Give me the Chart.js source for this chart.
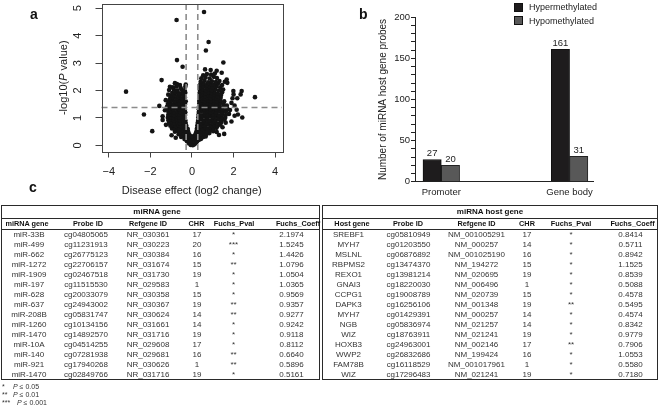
<!DOCTYPE html>
<html><head><meta charset="utf-8">
<script src="https://cdn.jsdelivr.net/npm/chart.js@4.4.1/dist/chart.umd.min.js"></script>
<style>
html,body{margin:0;padding:0;background:#fff}
body{width:658px;height:417px;position:relative;overflow:hidden;font-family:"Liberation Sans",Arial,Helvetica,sans-serif;color:#222}
.abs{position:absolute}
.panel{font-weight:bold;font-size:14px;color:#111;line-height:14px}
.cell{position:absolute;white-space:nowrap;transform:translateX(-50%);font-size:8px;line-height:10px;color:#333}
.hcell{position:absolute;white-space:nowrap;transform:translateX(-50%);font-size:7.3px;line-height:12px;font-weight:bold;color:#111}
.leg{position:absolute;font-size:9px;line-height:12px;color:#222;white-space:nowrap}
.sw{position:absolute;width:9px;height:9px;border:1px solid #111;box-sizing:border-box}
.fn{position:absolute;font-size:7px;line-height:8px;color:#333;white-space:nowrap}
</style>
</head><body>
<canvas id="volcano" class="abs" style="left:0;top:0" width="300" height="200"></canvas>
<canvas id="bars" class="abs" style="left:330px;top:0" width="328" height="205"></canvas>
<div class="panel abs" style="left:30px;top:7px">a</div>
<div class="panel abs" style="left:359px;top:7px">b</div>
<div class="panel abs" style="left:29px;top:180px">c</div>
<div id="legend"></div>
<div id="tables"></div>
<div id="notes"></div>
<script>
// ---------------- DATA ----------------
// Panel a: volcano plot points [log2 change, -log10(P)]
const volcanoPoints = [
[-0.06,0.02],[0.04,0.01],[0.12,0.04],[-0.14,0.07],[0.2,0.09],[-0.02,0.1],
[-0.24,0.15],[-0.12,0.17],[0.0,0.16],[0.12,0.18],[0.25,0.15],[0.33,0.2],
[-0.36,0.23],[-0.22,0.26],[-0.08,0.24],[0.06,0.27],[0.19,0.25],[0.3,0.28],[0.44,0.24],
[-0.52,0.31],[-0.4,0.34],[-0.27,0.32],[-0.14,0.35],[0.0,0.33],[0.14,0.36],[0.26,0.32],[0.4,0.35],[0.54,0.31],[-0.78,0.28],[-0.98,0.37],[0.66,0.33],
[-0.64,0.41],[-0.52,0.44],[-0.39,0.42],[-0.26,0.45],[-0.13,0.41],[0.18,0.43],[0.31,0.46],[0.44,0.41],[0.57,0.44],[0.7,0.42],[0.84,0.45],[1.3,0.38],[1.55,0.42],
[-0.82,0.5],[-0.69,0.53],[-0.56,0.51],[-0.43,0.55],[-0.3,0.52],[-0.18,0.5],[0.22,0.52],[0.35,0.55],[0.48,0.5],[0.61,0.54],[0.74,0.51],[0.88,0.55],[1.02,0.52],[1.19,0.49],
[-0.96,0.62],[-0.84,0.6],[-0.71,0.64],[-0.58,0.61],[-0.45,0.65],[-0.32,0.62],[-0.2,0.6],[0.24,0.62],[0.37,0.65],[0.5,0.6],[0.63,0.64],[0.76,0.61],[0.9,0.65],[1.04,0.6],[1.18,0.64],[1.47,0.66],
[-1.04,0.72],[-0.91,0.75],[-0.78,0.71],[-0.65,0.74],[-0.52,0.7],[-0.39,0.76],[-0.27,0.72],[0.26,0.73],[0.39,0.7],[0.53,0.75],[0.66,0.72],[0.8,0.76],[0.94,0.71],[1.08,0.74],[1.22,0.7],[1.36,0.76],[-1.25,0.75],
[-1.1,0.82],[-0.96,0.85],[-0.83,0.8],[-0.7,0.84],[-0.57,0.81],[-0.43,0.86],[-0.3,0.82],[0.28,0.83],[0.42,0.8],[0.56,0.85],[0.7,0.81],[0.84,0.86],[0.98,0.82],[1.12,0.85],[1.26,0.8],[1.4,0.84],[1.9,0.87],[1.62,0.83],
[-1.13,0.92],[-0.99,0.95],[-0.86,0.9],[-0.72,0.94],[-0.58,0.91],[-0.45,0.96],[-0.32,0.92],[0.3,0.91],[0.44,0.95],[0.58,0.9],[0.72,0.94],[0.86,0.91],[1.0,0.96],[1.14,0.92],[1.28,0.95],[1.42,0.9],[1.56,0.94],[-1.41,0.93],
[-1.16,1.01],[-1.02,1.04],[-0.88,1.0],[-0.74,1.05],[-0.6,1.02],[-0.47,1.06],[-0.34,1.01],[0.31,1.03],[0.45,1.0],[0.59,1.05],[0.73,1.01],[0.87,1.06],[1.01,1.02],[1.15,1.05],[1.29,1.0],[1.43,1.04],[1.6,1.01],[2.42,1.02],[-1.41,1.06],
[-1.14,1.11],[-1.0,1.14],[-0.86,1.1],[-0.72,1.15],[-0.58,1.12],[-0.45,1.16],[-0.33,1.11],[0.32,1.13],[0.46,1.1],[0.6,1.15],[0.74,1.11],[0.88,1.16],[1.02,1.12],[1.16,1.15],[1.3,1.1],[1.45,1.14],[1.62,1.11],[1.78,1.15],[2.21,1.13],[2.05,1.08],
[-1.12,1.21],[-0.98,1.24],[-0.85,1.2],[-0.71,1.25],[-0.57,1.22],[-0.44,1.26],[-0.32,1.21],[0.33,1.22],[0.47,1.26],[0.61,1.2],[0.75,1.24],[0.89,1.21],[1.03,1.25],[1.17,1.2],[1.31,1.24],[1.46,1.21],[1.63,1.25],[1.83,1.29],[-1.3,1.28],
[-1.18,1.31],[-1.04,1.34],[-0.9,1.3],[-0.76,1.35],[-0.62,1.32],[-0.48,1.36],[-0.34,1.31],[0.33,1.32],[0.48,1.36],[0.62,1.3],[0.76,1.34],[0.9,1.31],[1.04,1.35],[1.18,1.3],[1.32,1.34],[1.48,1.31],[1.7,1.34],[2.15,1.3],
[-1.2,1.41],[-1.05,1.44],[-0.92,1.4],[-0.78,1.45],[-0.64,1.42],[-0.5,1.46],[-0.36,1.41],[0.34,1.42],[0.48,1.46],[0.62,1.4],[0.76,1.44],[0.9,1.41],[1.04,1.45],[1.18,1.4],[1.32,1.44],[1.5,1.41],[1.68,1.45],[2.05,1.45],[-1.57,1.44],
[-1.16,1.51],[-1.02,1.54],[-0.88,1.5],[-0.74,1.55],[-0.6,1.52],[-0.46,1.56],[-0.33,1.51],[0.35,1.52],[0.49,1.56],[0.63,1.5],[0.77,1.54],[0.91,1.51],[1.05,1.55],[1.19,1.5],[1.35,1.54],[1.52,1.51],[1.9,1.55],
[-1.1,1.61],[-0.96,1.64],[-0.82,1.6],[-0.68,1.65],[-0.55,1.62],[-0.42,1.66],[-0.3,1.61],[0.35,1.62],[0.49,1.66],[0.63,1.6],[0.77,1.64],[0.91,1.61],[1.05,1.65],[1.2,1.6],[1.36,1.64],[1.55,1.61],[-1.26,1.65],
[-1.05,1.71],[-0.9,1.74],[-0.76,1.7],[-0.62,1.75],[-0.48,1.72],[-0.34,1.76],[0.36,1.72],[0.5,1.76],[0.64,1.7],[0.78,1.74],[0.92,1.71],[1.06,1.75],[1.2,1.7],[1.38,1.74],[1.95,1.72],[2.18,1.72],[3.03,1.76],
[-1.0,1.81],[-0.85,1.84],[-0.7,1.8],[-0.56,1.85],[-0.4,1.82],[0.36,1.82],[0.5,1.86],[0.64,1.8],[0.78,1.84],[0.92,1.81],[1.06,1.85],[1.22,1.8],[1.4,1.84],[2.0,1.86],[2.34,1.86],
[-0.95,1.91],[-0.8,1.94],[-0.62,1.9],[-0.45,1.95],[-0.32,1.92],[0.37,1.92],[0.52,1.96],[0.66,1.9],[0.8,1.94],[0.94,1.91],[1.08,1.95],[1.24,1.9],[1.45,1.94],[-1.14,1.85],
[-1.1,2.02],[-0.88,2.05],[-0.7,2.0],[-0.5,2.04],[-0.35,2.01],[0.38,2.02],[0.52,2.06],[0.68,2.0],[0.82,2.04],[0.96,2.01],[1.12,2.05],[1.3,2.0],[1.5,2.04],[1.99,1.98],[2.39,1.98],[-3.17,1.96],
[-0.92,2.12],[-0.75,2.15],[-0.55,2.1],[-0.32,2.14],[0.38,2.12],[0.54,2.16],[0.7,2.1],[0.86,2.14],[1.0,2.11],[1.18,2.15],[1.36,2.12],[-1.06,2.14],
[-0.82,2.27],[-0.58,2.2],[-0.3,2.22],[0.4,2.22],[0.56,2.26],[0.72,2.2],[0.9,2.24],[1.06,2.21],[1.25,2.25],[1.45,2.2],[-0.72,2.24],
[-1.46,2.38],[0.42,2.32],[0.6,2.36],[0.78,2.3],[0.96,2.34],[1.15,2.31],[1.32,2.35],[1.58,2.32],[1.67,2.4],
[0.45,2.45],[0.65,2.48],[0.85,2.44],[1.05,2.5],[1.2,2.46],[1.7,2.28],
[0.54,2.56],[0.72,2.6],[0.92,2.58],[1.1,2.62],[1.43,2.65],[0.63,2.77],[0.9,2.75],[1.19,2.72],
[0.58,4.86],[-0.74,4.57],[0.8,3.77],[0.67,3.46],[-0.72,3.11],[1.51,3.02],[-0.45,2.87],[-2.31,1.13],[-1.91,0.52]
];
const thresholdLog2 = 0.28;
const thresholdNegLogP = 1.38;
const volcanoXTicks = [-4,-2,0,2,4];
const volcanoYTicks = [0,1,2,3,4,5];

// Panel b
const regionCategories = ['Promoter','Gene body'];
const seriesNames = ['Hypermethylated','Hypomethylated'];
const seriesColors = ['#1e1c1d','#585858'];
const hyperCounts = [27,161];
const hypoCounts = [20,31];

// Panel c tables
const columnHeaders = ['Probe ID','Refgene ID','CHR','Fuchs_Pval','Fuchs_Coeff'];
const mirnaGenes = ['miR-33B','miR-499','miR-662','miR-1272','miR-1909','miR-197','miR-628','miR-637','miR-208B','miR-1260','miR-1470','miR-10A','miR-140','miR-921','miR-1470'];
const mirnaProbes = ['cg04805065','cg11231913','cg26775123','cg22706157','cg02467518','cg11515530','cg20033079','cg24943002','cg05831747','cg10134156','cg14892570','cg04514255','cg07281938','cg17940268','cg02849766'];
const mirnaRefgenes = ['NR_030361','NR_030223','NR_030384','NR_031674','NR_031730','NR_029583','NR_030358','NR_030367','NR_030624','NR_031661','NR_031716','NR_029608','NR_029681','NR_030626','NR_031716'];
const mirnaChr = ['17','20','16','15','19','1','15','19','14','14','19','17','16','1','19'];
const mirnaPval = ['*','***','*','**','*','*','*','**','**','*','*','*','**','**','*'];
const mirnaCoeff = ['2.1974','1.5245','1.4426','1.0796','1.0504','1.0365','0.9569','0.9357','0.9277','0.9242','0.9118','0.8112','0.6640','0.5896','0.5161'];
const hostGenes = ['SREBF1','MYH7','MSLNL','RBPMS2','REXO1','GNAI3','CCPG1','DAPK3','MYH7','NGB','WIZ','HOXB3','WWP2','FAM78B','WIZ'];
const hostProbes = ['cg05810949','cg01203550','cg06876892','cg13474370','cg13981214','cg18220030','cg19008789','cg16256106','cg01429391','cg05836974','cg18763911','cg24963001','cg26832686','cg16118529','cg17296483'];
const hostRefgenes = ['NM_001005291','NM_000257','NM_001025190','NM_194272','NM_020695','NM_006496','NM_020739','NM_001348','NM_000257','NM_021257','NM_021241','NM_002146','NM_199424','NM_001017961','NM_021241'];
const hostChr = ['17','14','16','15','19','1','15','19','14','14','19','17','16','1','19'];
const hostPval = ['*','*','*','*','*','*','*','**','*','*','*','**','*','*','*'];
const hostCoeff = ['0.8414','0.5711','0.8942','1.1525','0.8539','0.5088','0.4578','0.5495','0.4574','0.8342','0.9779','0.7906','1.0553','0.5580','0.7180'];
const footnoteSymbols = ['*','**','***'];
const footnoteLevels = ['0.05','0.01','0.001'];

// ---------------- PANEL A ----------------
const FONT = '"Liberation Sans", Arial, sans-serif';
const minusFmt = v => (v < 0 ? '\u2212' + Math.abs(v) : String(v));

const volcanoDecor = {
  id: 'volcanoDecor',
  afterDatasetsDraw(chart) {
    const {ctx, chartArea: a, scales: {x, y}} = chart;
    ctx.save();
    ctx.strokeStyle = '#8c8c8c';
    ctx.lineWidth = 1.6;
    ctx.setLineDash([6, 4]);
    [-thresholdLog2, thresholdLog2].forEach(v => {
      const px = x.getPixelForValue(v);
      ctx.beginPath(); ctx.moveTo(px, a.top); ctx.lineTo(px, a.bottom); ctx.stroke();
    });
    const py = y.getPixelForValue(thresholdNegLogP);
    ctx.beginPath(); ctx.moveTo(a.left, py); ctx.lineTo(a.right, py); ctx.stroke();
    ctx.setLineDash([]);
    ctx.strokeStyle = '#444';
    ctx.lineWidth = 1;
    ctx.strokeRect(Math.round(a.left) + 0.5, Math.round(a.top) + 0.5, Math.round(a.right - a.left), Math.round(a.bottom - a.top));
    // rotated y tick labels (R style)
    ctx.fillStyle = '#222';
    ctx.font = '11px ' + FONT;
    ctx.textAlign = 'center';
    ctx.textBaseline = 'middle';
    y.ticks.forEach(t => {
      const ty = y.getPixelForValue(t.value);
      ctx.save(); ctx.translate(78, ty); ctx.rotate(-Math.PI / 2);
      ctx.fillText(String(t.value), 0, 0); ctx.restore();
    });
    // y title with italic P
    const parts = [['-log10(', ''], ['P', 'italic '], [' value)', '']];
    let total = 0;
    parts.forEach(p => { ctx.font = p[1] + '11px ' + FONT; total += ctx.measureText(p[0]).width; });
    ctx.save();
    ctx.translate(63.5, (a.top + a.bottom) / 2);
    ctx.rotate(-Math.PI / 2);
    ctx.textAlign = 'left';
    let cx = -total / 2;
    parts.forEach(p => { ctx.font = p[1] + '11px ' + FONT; ctx.fillText(p[0], cx, 0); cx += ctx.measureText(p[0]).width; });
    ctx.restore();
    ctx.restore();
  }
};

new Chart(document.getElementById('volcano'), {
  type: 'scatter',
  data: { datasets: [{
    data: volcanoPoints.map(p => ({x: p[0], y: p[1]})),
    backgroundColor: '#141414', borderColor: '#141414', borderWidth: 0, pointRadius: 2.3
  }]},
  options: {
    responsive: false, animation: false, devicePixelRatio: 1,
    layout: { padding: { top: 1, right: 18, bottom: 0, left: 0 } },
    plugins: { legend: { display: false }, tooltip: { enabled: false } },
    scales: {
      x: {
        type: 'linear', min: -4.35, max: 4.33,
        afterBuildTicks: s => { s.ticks = volcanoXTicks.map(v => ({value: v})); },
        afterFit: s => { s.height = 48.5; },
        ticks: { callback: v => minusFmt(v), color: '#222', font: { size: 11, family: FONT }, padding: 8, maxRotation: 0, autoSkip: false },
        grid: { drawOnChartArea: false, tickLength: 6, color: '#444' },
        border: { display: false },
        title: { display: true, text: 'Disease effect (log2 change)', color: '#222', font: { size: 11, family: FONT }, padding: { top: 0, bottom: 2 } }
      },
      y: {
        type: 'linear', min: -0.221, max: 5.154,
        afterBuildTicks: s => { s.ticks = volcanoYTicks.map(v => ({value: v})); },
        afterFit: s => { s.width = 101.5; },
        ticks: { display: false },
        grid: { drawOnChartArea: false, tickLength: 6, color: '#444' },
        border: { display: false }
      }
    }
  },
  plugins: [volcanoDecor]
});

// ---------------- PANEL B ----------------
const barLabels = {
  id: 'barLabels',
  afterDatasetsDraw(chart) {
    const ctx = chart.ctx;
    ctx.save();
    ctx.fillStyle = '#222';
    ctx.font = '9.5px ' + FONT;
    ctx.textAlign = 'center';
    ctx.textBaseline = 'bottom';
    chart.data.datasets.forEach((ds, i) => {
      chart.getDatasetMeta(i).data.forEach((bar, j) => {
        ctx.fillText(String(ds.data[j].y), bar.x, bar.y - 1.5);
      });
    });
    ctx.restore();
  }
};

new Chart(document.getElementById('bars'), {
  type: 'bar',
  data: { datasets: [
    { label: seriesNames[0], data: hyperCounts.map((v, i) => ({x: i, y: v})), backgroundColor: seriesColors[0], borderColor: '#111', borderWidth: 1, barThickness: 18.3 },
    { label: seriesNames[1], data: hypoCounts.map((v, i) => ({x: i, y: v})), backgroundColor: seriesColors[1], borderColor: '#222', borderWidth: 1, barThickness: 18.3 }
  ]},
  options: {
    responsive: false, animation: false, devicePixelRatio: 1,
    layout: { padding: { top: 17.3, right: 64.7, bottom: 0, left: 0 } },
    plugins: { legend: { display: false }, tooltip: { enabled: false } },
    scales: {
      x: {
        type: 'linear', min: -0.205, max: 1.185, offset: false,
        afterBuildTicks: s => { s.ticks = regionCategories.map((c, i) => ({value: i})); },
        afterFit: s => { s.height = 23.3; },
        ticks: { callback: v => regionCategories[v], color: '#222', font: { size: 9.5, family: FONT }, padding: 5, maxRotation: 0, autoSkip: false },
        grid: { display: false, drawTicks: false, offset: false },
        border: { display: true, color: '#222', width: 1 }
      },
      y: {
        type: 'linear', min: 0, max: 200,
        ticks: { stepSize: 10, autoSkip: false, callback: v => (v % 50 === 0 ? String(v) : ''), color: '#222', font: { size: 9.5, family: FONT }, padding: 1 },
        afterFit: s => { s.width = 85; },
        grid: { drawOnChartArea: false, tickLength: 4, color: '#222' },
        border: { display: true, color: '#222', width: 1 },
        title: { display: true, text: 'Number of miRNA host gene probes', color: '#222', font: { size: 10, family: FONT }, padding: { top: 47.5, bottom: 0 } }
      }
    }
  },
  plugins: [barLabels]
});

// legend (HTML)
(function () {
  const lg = document.getElementById('legend');
  seriesNames.forEach((n, i) => {
    const top = 2.5 + i * 13.5;
    const sw = document.createElement('div');
    sw.className = 'sw'; sw.style.left = '514px'; sw.style.top = top + 'px'; sw.style.background = seriesColors[i];
    lg.appendChild(sw);
    const t = document.createElement('div');
    t.className = 'leg'; t.style.left = '529px'; t.style.top = (top - 1.5) + 'px'; t.textContent = n;
    lg.appendChild(t);
  });
})();

// ---------------- PANEL C (tables) ----------------
function buildTable(host, left, width, title, firstHeader, cols, hdrX, dataX, titleX) {
  const add = (cls, css, text) => {
    const d = document.createElement('div');
    if (cls) d.className = cls;
    Object.assign(d.style, css);
    if (text !== undefined) d.textContent = text;
    host.appendChild(d);
    return d;
  };
  const top = 205, titleBottom = 217.5, headBottom = 230, rowH = 10;
  const bottom = headBottom + rowH * cols[0].length;
  add('', {position: 'absolute', left: left + 'px', top: top + 'px', width: width + 'px', height: (bottom - top) + 'px', border: '1.6px solid #2a2a2a', boxSizing: 'border-box'});
  add('', {position: 'absolute', left: left + 'px', top: titleBottom + 'px', width: width + 'px', height: '0', borderTop: '1px solid #2a2a2a'});
  add('', {position: 'absolute', left: left + 'px', top: (headBottom - 1) + 'px', width: width + 'px', height: '0', borderTop: '1.6px solid #2a2a2a'});
  add('hcell', {left: titleX + 'px', top: (top + 0.5) + 'px', fontSize: '8px'}, title);
  const headers = [firstHeader].concat(columnHeaders);
  headers.forEach((h, c) => add('hcell', {left: hdrX[c] + 'px', top: (titleBottom + 0.5) + 'px'}, h));
  cols.forEach((col, c) => {
    col.forEach((v, r) => add('cell', {left: dataX[c] + 'px', top: (headBottom + r * rowH) + 'px'}, v));
  });
}
const tablesHost = document.getElementById('tables');
buildTable(tablesHost, 0.5, 319, 'miRNA gene', 'miRNA gene',
  [mirnaGenes, mirnaProbes, mirnaRefgenes, mirnaChr, mirnaPval, mirnaCoeff],
  [27, 88, 148, 196.5, 234, 298], [29, 86, 148, 197, 233.5, 291.5], 157);
buildTable(tablesHost, 321.5, 336, 'miRNA host gene', 'Host gene',
  [hostGenes, hostProbes, hostRefgenes, hostChr, hostPval, hostCoeff],
  [352, 408, 476.5, 527, 571, 632.5], [348.5, 408.5, 476.5, 527, 571, 630.5], 490);

// footnotes
(function () {
  const host = document.getElementById('notes');
  footnoteSymbols.forEach((s, i) => {
    const y = 383 + i * 8.2;
    const a = document.createElement('div');
    a.className = 'fn'; a.style.left = '2px'; a.style.top = y + 'px'; a.textContent = s;
    host.appendChild(a);
    const b = document.createElement('div');
    b.className = 'fn'; b.style.left = (i === 2 ? 17 : 13) + 'px'; b.style.top = y + 'px';
    const p = document.createElement('i'); p.textContent = 'P';
    b.appendChild(p);
    b.appendChild(document.createTextNode(' \u2264 ' + footnoteLevels[i]));
    host.appendChild(b);
  });
})();
</script>
</body></html>
